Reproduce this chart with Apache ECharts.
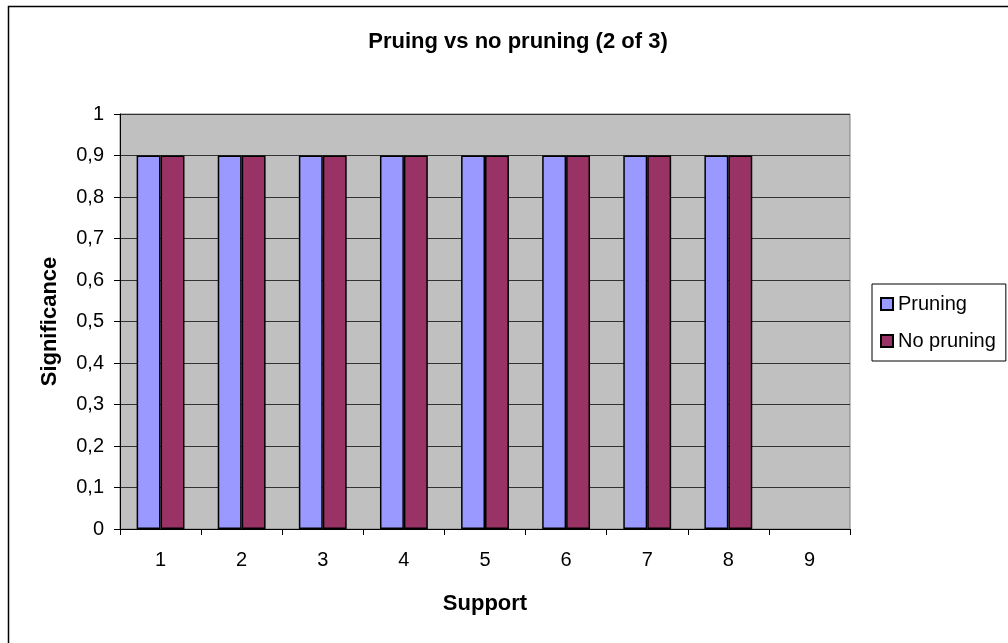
<!DOCTYPE html>
<html><head><meta charset="utf-8">
<script src="https://cdn.jsdelivr.net/npm/echarts@6/dist/echarts.min.js"></script>
<style>html,body{margin:0;padding:0;background:#fff}#c{width:1008px;height:643px}</style>
</head><body><div id="c"></div>
<script>
const categories = ['1','2','3','4','5','6','7','8','9'];
const pruning = [0.9,0.9,0.9,0.9,0.9,0.9,0.9,0.9,null];
const noPruning = [0.9,0.9,0.9,0.9,0.9,0.9,0.9,0.9,null];
const seriesNames = ['Pruning','No pruning'];
const chart = echarts.init(document.getElementById('c'));
const font = 'Liberation Sans, Arial, sans-serif';
chart.setOption({
  animation: false,
  backgroundColor: '#fff',
  graphic: [{type:'rect', shape:{x:8.5,y:6.5,width:1010,height:650}, style:{fill:null, stroke:'#000', lineWidth:1.5}, silent:true}],
  title: {text:'Pruing vs no pruning (2 of 3)', left:513, top:26, textAlign:'center',
    textStyle:{fontFamily:font, fontSize:22, fontWeight:'bold', color:'#000'}},
  legend: {orient:'vertical', left:872, top:284, data:seriesNames, icon:'rect', itemWidth:12, itemHeight:12,
    itemGap:17, padding:[10,10,10,8], borderColor:'#000', borderWidth:1, borderRadius:0,
    textStyle:{fontFamily:font, fontSize:20, color:'#000'}},
  grid: {left:120, top:114, width:730, height:415, show:true, backgroundColor:'#C0C0C0', borderColor:'#808080', borderWidth:1, containLabel:false},
  xAxis: {type:'category', data:categories, boundaryGap:true,
    name:'Support', nameLocation:'middle', nameGap:64,
    nameTextStyle:{fontFamily:font, fontSize:22, fontWeight:'bold', color:'#000'},
    axisLine:{lineStyle:{color:'#000', width:1}},
    axisTick:{show:true, length:6, inside:false, alignWithLabel:false, lineStyle:{color:'#000'}},
    axisLabel:{fontFamily:font, fontSize:20, color:'#000', margin:21},
    splitLine:{show:false}},
  yAxis: {type:'value', min:0, max:1, interval:0.1,
    name:'Significance', nameLocation:'middle', nameGap:59, nameRotate:90,
    nameTextStyle:{fontFamily:font, fontSize:22, fontWeight:'bold', color:'#000'},
    axisLine:{show:true, lineStyle:{color:'#000', width:1}},
    axisTick:{show:true, length:6, lineStyle:{color:'#000'}},
    axisLabel:{fontFamily:font, fontSize:20, color:'#000', margin:16,
      formatter: v => String(Math.round(v*10)/10).replace('.', ',')},
    splitLine:{show:true, lineStyle:{color:'#333', width:1}}},
  series: [
    {name:seriesNames[0], type:'bar', data:pruning, barGap:'0%', barCategoryGap:'41%',
      itemStyle:{color:'#9999FF', borderColor:'#000', borderWidth:1.5}},
    {name:seriesNames[1], type:'bar', data:noPruning, barGap:'0%', barCategoryGap:'41%',
      itemStyle:{color:'#993366', borderColor:'#000', borderWidth:1.5}}
  ]
});
</script></body></html>
